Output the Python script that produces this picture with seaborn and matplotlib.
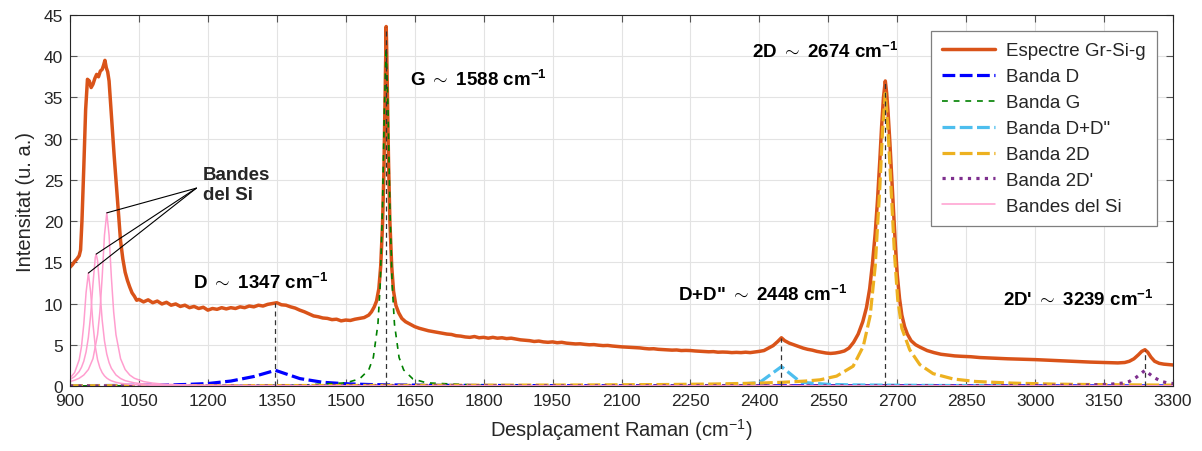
import numpy as np
import matplotlib
matplotlib.use("Agg")
import matplotlib.pyplot as plt
import seaborn as sns

# ---------------- data ----------------
spectrum_x = [
    900, 905, 910, 915, 920, 923, 926, 930, 934, 938, 942, 946, 950, 954, 958, 962, 966, 970, 973, 976,
    979, 982, 985, 988, 992, 996, 1000, 1005, 1010, 1015, 1020, 1025, 1030, 1035, 1040, 1045, 1050,
    1060, 1070, 1080, 1090, 1100, 1110, 1120, 1130, 1140, 1150, 1160, 1170, 1180, 1190, 1200, 1210,
    1220, 1230, 1240, 1250, 1260, 1270, 1280, 1290, 1300, 1310, 1320, 1330, 1340, 1350, 1360, 1370,
    1380, 1390, 1400, 1410, 1420, 1430, 1440, 1450, 1460, 1470, 1480, 1490, 1500,
    1510, 1520, 1530, 1540, 1550, 1556, 1562, 1567, 1572, 1576, 1580, 1583, 1585, 1587, 1588, 1589,
    1591, 1593, 1596, 1600, 1604, 1609, 1615, 1622, 1630, 1640, 1650, 1660, 1670, 1680, 1690, 1700,
    1710, 1720, 1730, 1740, 1750, 1760, 1770, 1780, 1790, 1800, 1810, 1820, 1830, 1840, 1850, 1860,
    1870, 1880, 1890, 1900, 1910, 1920, 1930, 1940, 1950, 1960, 1970, 1980, 1990, 2000, 2010, 2020,
    2030, 2040, 2050, 2060, 2070, 2080, 2090, 2100, 2110, 2120, 2130, 2140, 2150, 2160, 2170, 2180,
    2190, 2200, 2210, 2220, 2230, 2240, 2250, 2260, 2270, 2280, 2290, 2300, 2310, 2320, 2330, 2340,
    2350, 2360, 2370, 2380, 2390, 2400,
    2410, 2420, 2430, 2440, 2448, 2455, 2465, 2475, 2485, 2495, 2505, 2515, 2525, 2535, 2545, 2555,
    2565, 2575, 2585, 2595, 2605, 2615, 2625, 2633, 2640, 2646, 2652, 2657, 2662, 2666, 2670, 2674,
    2677, 2680, 2684, 2688, 2692, 2696, 2700, 2705, 2710, 2716, 2722, 2730, 2740, 2750, 2765, 2780,
    2795, 2810, 2825, 2840, 2860, 2880, 2900, 2920, 2940, 2960, 2980, 3000, 3020, 3040, 3060, 3080,
    3100, 3120, 3140, 3160, 3180, 3195, 3205, 3215, 3225, 3232, 3239, 3245, 3252, 3260, 3270, 3280,
    3290, 3300,
]
spectrum_y = [
    14.4, 14.7, 15.1, 15.4, 15.8, 16.5, 20.0, 26.5, 33.5, 37.2, 37.0, 36.2, 36.6, 37.3, 37.8, 37.5, 38.2, 38.4, 38.9, 39.5,
    38.6, 38.1, 37.0, 34.5, 31.0, 28.0, 25.0, 21.3, 17.6, 15.4, 13.8, 12.8, 12.0, 11.3, 10.9, 10.4, 10.5,
    10.2, 10.45, 10.1, 10.3, 9.95, 10.15, 9.8, 9.95, 9.65, 9.8, 9.5, 9.65, 9.4, 9.55, 9.2, 9.4,
    9.3, 9.5, 9.35, 9.5, 9.4, 9.6, 9.5, 9.7, 9.6, 9.8, 9.7, 9.9, 10.0, 10.1, 9.85, 9.8,
    9.6, 9.45, 9.2, 9.0, 8.75, 8.5, 8.4, 8.25, 8.2, 8.05, 8.1, 7.9, 8.0,
    7.95, 8.1, 8.2, 8.3, 8.6, 9.0, 9.6, 10.3, 11.8, 14.5, 19.5, 26.0, 33.0, 40.5, 43.6, 41.0,
    34.0, 27.5, 20.0, 14.5, 11.5, 9.8, 8.9, 8.2, 7.8, 7.5, 7.2, 7.0, 6.85, 6.7, 6.6, 6.5,
    6.4, 6.3, 6.25, 6.1, 6.05, 5.95, 5.9, 6.0, 5.85, 5.9, 5.8, 5.9, 5.8, 5.85, 5.75, 5.8,
    5.7, 5.6, 5.55, 5.5, 5.4, 5.45, 5.35, 5.3, 5.35, 5.25, 5.3, 5.2, 5.15, 5.1, 5.12, 5.05,
    5.0, 5.02, 4.95, 4.9, 4.92, 4.85, 4.8, 4.75, 4.72, 4.7, 4.65, 4.62, 4.55, 4.5, 4.52, 4.45,
    4.42, 4.4, 4.35, 4.37, 4.3, 4.32, 4.3, 4.25, 4.22, 4.2, 4.15, 4.17, 4.1, 4.12, 4.1, 4.05,
    4.08, 4.05, 4.1, 4.05, 4.12, 4.2,
    4.3, 4.6, 4.9, 5.4, 5.85, 5.5, 5.2, 5.0, 4.8, 4.6, 4.45, 4.35, 4.2, 4.1, 4.0, 3.95,
    4.0, 4.1, 4.25, 4.6, 5.3, 6.3, 7.8, 9.5, 11.8, 14.8, 18.5, 22.5, 27.3, 31.5, 35.0, 37.0,
    35.5, 33.2, 29.5, 25.3, 21.0, 17.0, 13.5, 10.6, 8.6, 7.2, 6.3, 5.5, 5.0, 4.7, 4.3, 4.05,
    3.85, 3.75, 3.65, 3.6, 3.55, 3.45, 3.4, 3.35, 3.3, 3.27, 3.25, 3.2, 3.15, 3.1, 3.05, 3.0,
    2.95, 2.9, 2.87, 2.85, 2.8, 2.85, 3.0, 3.3, 3.8, 4.2, 4.4, 4.1, 3.5, 3.0, 2.75, 2.65,
    2.6, 2.55,
]

band_d_x = [900, 1000, 1100, 1150, 1200, 1250, 1300, 1347, 1400, 1450, 1500, 1550, 1600, 1700, 2000, 3300]
band_d_y = [0.04, 0.06, 0.12, 0.18, 0.3, 0.6, 1.15, 1.9, 0.9, 0.45, 0.27, 0.18, 0.13, 0.08, 0.03, 0.01]

band_g_x = [900, 1400, 1500, 1530, 1550, 1560, 1570, 1575, 1580, 1584, 1588, 1592, 1596, 1601, 1606,
            1616, 1626, 1646, 1676, 1800, 2000, 3300]
band_g_y = [0.01, 0.09, 0.38, 0.86, 1.95, 3.46, 7.5, 12.3, 21.7, 33.6, 41.0, 33.6, 21.7, 12.3, 7.5,
            3.46, 1.95, 0.86, 0.38, 0.066, 0.02, 0.0]

band_dd_x = [900, 2000, 2200, 2300, 2350, 2400, 2448, 2490, 2550, 2600, 2800, 3300]
band_dd_y = [0.02, 0.04, 0.08, 0.13, 0.2, 0.4, 2.35, 0.45, 0.2, 0.13, 0.06, 0.02]

band_2d_x = [900, 1500, 2000, 2200, 2300, 2400, 2450, 2500, 2532, 2568, 2604, 2626, 2641, 2652, 2662,
             2668, 2674, 2680, 2687, 2694, 2701, 2710, 2727, 2749, 2778, 2822, 2870, 2950, 3050, 3150, 3300]
band_2d_y = [0.03, 0.06, 0.12, 0.18, 0.24, 0.35, 0.45, 0.6, 0.75, 1.2, 2.4, 4.8, 8.5, 14.5, 24.0,
             31.0, 35.5, 31.0, 23.5, 16.0, 10.5, 7.0, 4.4, 2.6, 1.5, 0.85, 0.55, 0.35, 0.22, 0.16, 0.1]

band_2dp_x = [900, 2800, 3000, 3100, 3160, 3190, 3205, 3220, 3239, 3258, 3275, 3290, 3300]
band_2dp_y = [0.0, 0.03, 0.06, 0.1, 0.2, 0.35, 0.55, 1.05, 1.9, 1.05, 0.55, 0.35, 0.3]

si1_x = [900, 910, 920, 925, 930, 935, 940, 945, 950, 955, 960, 965, 970, 975, 980, 985, 990, 1000,
         1010, 1020, 1040, 1060, 1100, 1150, 1200, 1400, 3300]
si1_y = [0.96, 1.62, 3.18, 4.79, 7.5, 11.35, 13.7, 11.35, 7.5, 4.79, 3.18, 2.22, 1.62, 1.23, 0.96, 0.77,
         0.63, 0.45, 0.33, 0.26, 0.165, 0.115, 0.065, 0.038, 0.024, 0.008, 0.0]
si2_x = [900, 910, 920, 925, 930, 935, 940, 945, 950, 955, 957, 960, 965, 970, 975, 980, 985, 990, 1000,
         1010, 1020, 1040, 1060, 1100, 1150, 1200, 1400, 3300]
si2_y = [0.79, 1.14, 1.76, 2.27, 3.01, 4.14, 5.9, 8.64, 12.4, 15.6, 16.0, 15.2, 11.6, 8.0, 5.48, 3.87,
         2.84, 2.15, 1.34, 0.91, 0.65, 0.38, 0.25, 0.13, 0.072, 0.045, 0.014, 0.0]
si3_x = [900, 910, 920, 930, 940, 950, 960, 965, 970, 975, 980, 985, 990, 995, 1000, 1010, 1020, 1030,
         1040, 1060, 1080, 1100, 1150, 1200, 1400, 3300]
si3_y = [0.54, 0.7, 0.94, 1.33, 2.0, 3.32, 6.23, 9.0, 13.2, 18.3, 21.0, 18.3, 13.2, 9.0, 6.23, 3.32, 2.0,
         1.33, 0.94, 0.54, 0.35, 0.24, 0.12, 0.073, 0.02, 0.0]

peak_names = ["D", "G", "D+D\"", "2D", "2D'"]
peak_positions = [1347, 1588, 2448, 2674, 3239]

legend_labels = ["Espectre Gr-Si-g", "Banda D", "Banda G", "Banda D+D\"", "Banda 2D", "Banda 2D'", "Bandes del Si"]
x_ticks = list(range(900, 3301, 150))
y_ticks = list(range(0, 46, 5))

# ---------------- style ----------------
sns.set_theme(style="whitegrid")
plt.rcParams["font.family"] = ["Liberation Sans", "DejaVu Sans"]
plt.rcParams["mathtext.fontset"] = "custom"
plt.rcParams["mathtext.rm"] = "Liberation Sans"
plt.rcParams["mathtext.it"] = "Liberation Sans:italic"
plt.rcParams["mathtext.bf"] = "Liberation Sans:bold"

DARK = "#262626"
fig = plt.figure(figsize=(12.02, 4.52), dpi=100)
ax = fig.add_axes([70 / 1202, 1 - 387 / 452, 1103 / 1202, 371 / 452])

def draw(x, y, color, lw, label, ls="-", dashes=None):
    sns.lineplot(x=x, y=y, ax=ax, color=color, linewidth=lw, label=label,
                 estimator=None, sort=False, linestyle=ls)
    line = ax.lines[-1]
    if dashes is not None:
        line.set_dashes(dashes)
    return line

draw(spectrum_x, spectrum_y, "#D95319", 2.5, legend_labels[0])
draw(band_d_x, band_d_y, "#0000FF", 2.3, legend_labels[1], ls="--", dashes=(4.0, 1.4))
draw(band_g_x, band_g_y, "#008000", 1.2, legend_labels[2], ls="--", dashes=(3.5, 3.5))
draw(band_dd_x, band_dd_y, "#4DBEEE", 2.3, legend_labels[3], ls="--", dashes=(4.0, 1.4))
draw(band_2d_x, band_2d_y, "#EDB120", 2.3, legend_labels[4], ls="--", dashes=(4.0, 1.4))
draw(band_2dp_x, band_2dp_y, "#7E2F8E", 2.3, legend_labels[5], ls=":")
draw(si1_x, si1_y, "#FF9ECF", 1.1, legend_labels[6])
draw(si2_x, si2_y, "#FF9ECF", 1.1, None)
draw(si3_x, si3_y, "#FF9ECF", 1.1, None)

# vertical dashed marker lines at the band positions
peak_heights = np.interp(peak_positions, spectrum_x, spectrum_y)
ax.vlines(peak_positions, 0, peak_heights, colors="#333333", linestyles=(0, (4, 3)), linewidth=0.9, zorder=5)

# peak annotations
ann_pos = {"D": (1168, 12.6), "G": (1640, 37.2), "D+D\"": (2223, 11.2), "2D": (2384, 40.6), "2D'": (2930, 10.55)}
for name, pos in zip(peak_names, peak_positions):
    tx, ty = ann_pos[name]
    ax.text(tx, ty, name + r" $\sim$ " + f"{pos} cm" + r"$^{\mathbf{-1}}$",
            fontsize=13.5, fontweight="bold", color="black", va="center", ha="left")

# Si bands annotation
si_join = (1175, 24.0)
for sx, sy in [(si1_x, si1_y), (si2_x, si2_y), (si3_x, si3_y)]:
    i = int(np.argmax(sy))
    ax.annotate("", xy=(sx[i], sy[i]), xytext=si_join,
                arrowprops=dict(arrowstyle="-", color="black", lw=0.8, shrinkA=0, shrinkB=0))
ax.text(1189, 24.4, "Bandes\ndel Si", fontsize=13.5, fontweight="bold", va="center", ha="left",
        linespacing=1.25)

# axes
ax.set_xlim(900, 3300)
ax.set_ylim(0, 45)
ax.set_xticks(x_ticks)
ax.set_yticks(y_ticks)
ax.set_xlabel("Desplaçament Raman (cm$^{-1}$)", fontsize=14.5, color=DARK, labelpad=6)
ax.set_ylabel("Intensitat (u. a.)", fontsize=14.5, color=DARK, labelpad=6)
ax.grid(True, color="#e3e3e3", linewidth=0.8)
ax.set_axisbelow(True)
for s in ax.spines.values():
    s.set_visible(True)
    s.set_color(DARK)
    s.set_linewidth(0.8)
ax.tick_params(direction="in", top=True, right=True, bottom=True, left=True, length=5, width=0.8,
               color="#555555", labelsize=12.5, labelcolor=DARK, pad=5)

leg = ax.legend(loc="upper right", bbox_to_anchor=(0.9855, 0.957), borderaxespad=0.0, frameon=True,
                fancybox=False, edgecolor="#7f7f7f", framealpha=1, fontsize=13.5, handlelength=2.8,
                labelspacing=0.47, borderpad=0.6, handletextpad=0.6)
leg.get_frame().set_linewidth(0.9)

fig.savefig("out.png", dpi=100)
